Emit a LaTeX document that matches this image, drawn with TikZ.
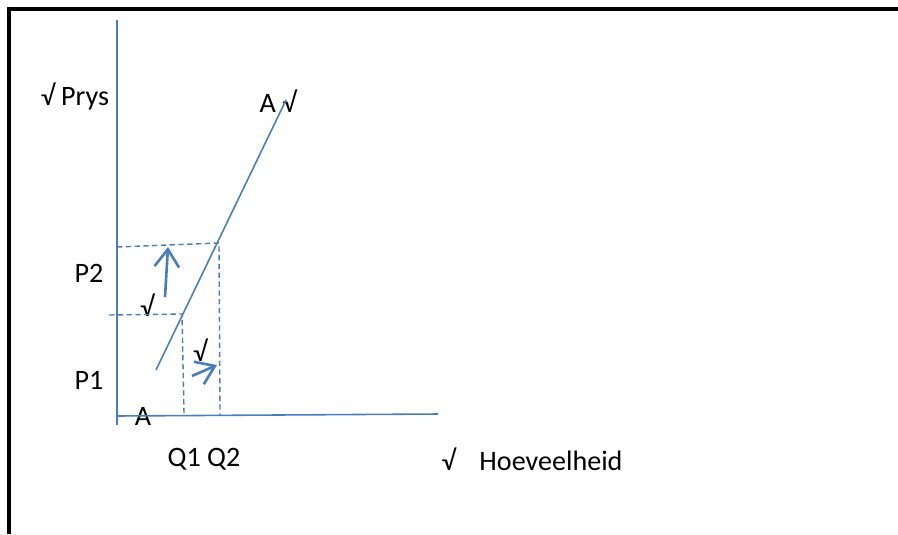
\documentclass[tikz,border=0pt]{standalone}
\usepackage{fontspec}
\setmainfont{Carlito}
\usetikzlibrary{arrows.meta}

\definecolor{lineblue}{RGB}{74,126,187}

\begin{document}
\begin{tikzpicture}[x=0.02cm, y=-0.02cm,
  axis/.style={draw=lineblue, line width=0.9pt},
  guide/.style={draw=lineblue, line width=0.8pt, dash pattern=on 3pt off 2pt},
  shiftarrow/.style={draw=lineblue, line width=1.5pt, -{Straight Barb[length=10pt, width=14pt]}},
  lbl/.style={font=\fontsize{16}{19}\selectfont, inner sep=0pt}]
  \useasboundingbox (0,0) rectangle (898,534);

  % frame
  \draw [line width=2.4pt] (9,534) -- (9,9) -- (898,9);

  \coordinate (ytop) at (117,20);
  \coordinate (ybot) at (117,425);
  \coordinate (xleft) at (117,416);
  \coordinate (xright) at (438,414);
  \coordinate (slow) at (156,370);
  \coordinate (shigh) at (286,100);
  \coordinate (p2left) at (117,247);
  \coordinate (e2) at (219,243);
  \coordinate (q2foot) at (220,415);
  \coordinate (p1left) at (109,315);
  \coordinate (e1) at (182,314);
  \coordinate (q1foot) at (184,413);
  \coordinate (upfrom) at (165,297);
  \coordinate (upto) at (168,247);
  \coordinate (rightfrom) at (192,376);
  \coordinate (rightto) at (217,365);

  \node [lbl] (prys) at (75,96) {√ Prys};
  \node [lbl] (supply) at (278,101) {A √};
  \node [lbl] (ptwo) at (89,273) {P2};
  \node [lbl] (tickp) at (147,305) {√};
  \node [lbl] (tickq) at (200,350) {√};
  \node [lbl] (pone) at (89,380) {P1};
  \node [lbl] (origin) at (143,416) {A};
  \node [lbl] (qs) at (204,459) {Q1 Q2};
  \node [lbl] (hoev) at (532,459) {√\hspace{0.85em}Hoeveelheid};

  \path [axis] (ytop) -- (ybot);
  \path [axis] (xleft) -- (xright);
  \path [axis] (slow) -- (shigh);
  % price and quantity guides
  \path [guide] (p2left) -- (e2) -- (q2foot);
  \path [guide] (p1left) -- (e1) -- (q1foot);
  \path [shiftarrow] (upfrom) -- (upto);
  \path [shiftarrow] (rightfrom) -- (rightto);
\end{tikzpicture}
\end{document}
